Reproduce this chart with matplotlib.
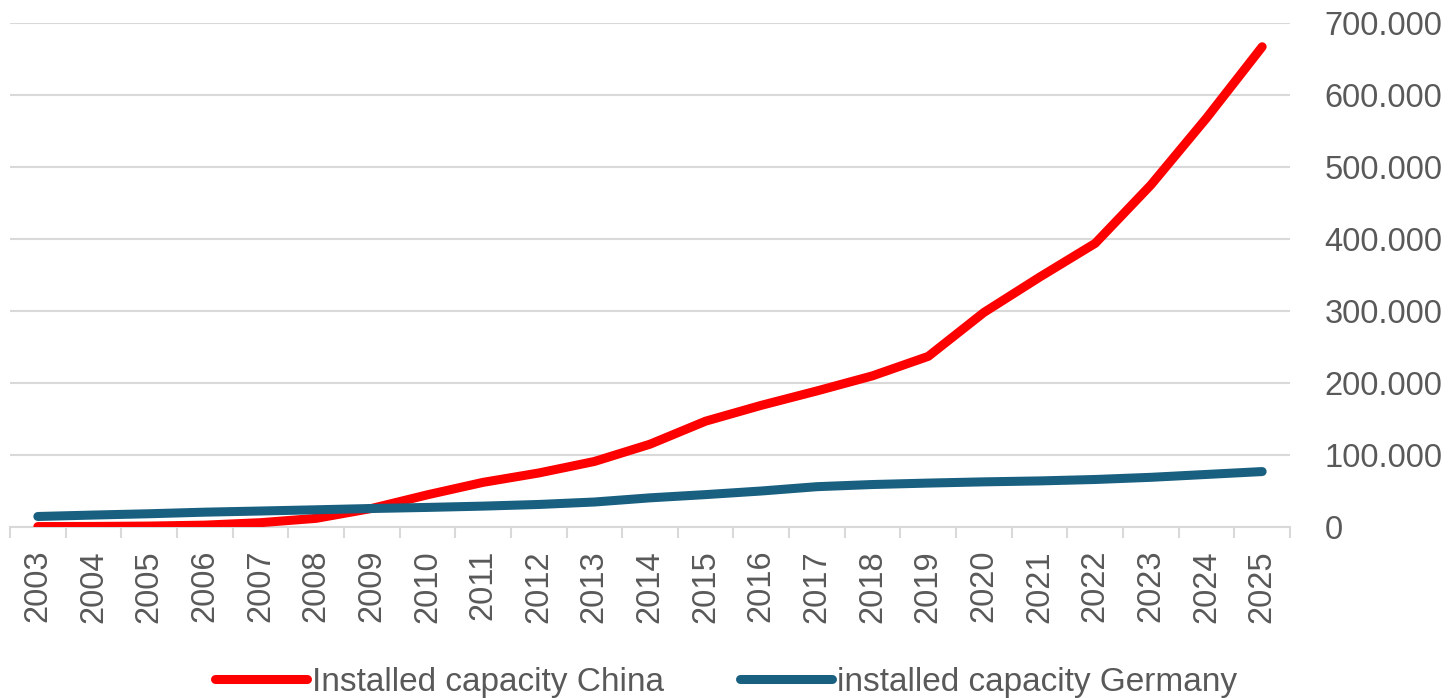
import matplotlib
matplotlib.use("Agg")
import matplotlib.pyplot as plt
from matplotlib.ticker import FuncFormatter, FixedLocator

years = [str(y) for y in range(2003, 2026)]
china = [600, 800, 1300, 2600, 6000, 12000, 25800, 44700, 62000, 75000, 91000,
         115000, 147000, 169000, 189000, 210000, 237000, 298000, 347000, 394000,
         475000, 568000, 667000]
germany = [14600, 16600, 18400, 20600, 22200, 23900, 25700, 27200, 29000, 31300,
           34700, 40500, 45000, 50000, 56000, 59000, 61000, 62700, 64000, 66000,
           69000, 73000, 77000]
series_names = ["Installed capacity China", "installed capacity Germany"]
y_ticks = [0, 100000, 200000, 300000, 400000, 500000, 600000, 700000]

plt.rcParams['font.family'] = ['Liberation Sans', 'DejaVu Sans']
TXT = '#595959'
GRID = '#d9d9d9'

fig = plt.figure(figsize=(14.52, 6.98), dpi=100)
W, H = 1452, 698
ax = fig.add_axes([10 / W, 1 - 527 / H, 1280 / W, 504 / H])

x = list(range(len(years)))
l1, = ax.plot(x, china, color='#ff0000', lw=6.5, solid_capstyle='round',
              solid_joinstyle='round', zorder=3)
l2, = ax.plot(x, germany, color='#185f80', lw=6.5, solid_capstyle='round',
              solid_joinstyle='round', zorder=3)

ax.set_xlim(-0.5, len(years) - 0.5)
ax.set_ylim(0, 700000)

for s in ['left', 'right', 'top']:
    ax.spines[s].set_visible(False)
ax.spines['bottom'].set_color(GRID)
ax.spines['bottom'].set_linewidth(1.5)

ax.set_xticks(x)
ax.set_xticklabels(years, rotation=90, fontsize=23.5, color=TXT)
ax.tick_params(axis='x', which='major', length=0, pad=16.5)
ax.xaxis.set_minor_locator(FixedLocator([i - 0.5 for i in range(len(years) + 1)]))
ax.tick_params(axis='x', which='minor', length=8, width=1.5, color=GRID, direction='out')

ax.yaxis.tick_right()
ax.set_yticks(y_ticks)
ax.yaxis.set_major_formatter(FuncFormatter(lambda v, p: f"{int(v):,}".replace(',', '.')))
ax.tick_params(axis='y', length=0, pad=25, labelsize=23.5, labelcolor=TXT)
for t in ax.get_yticklabels():
    t.set_horizontalalignment('left')
ax.grid(axis='y', color=GRID, lw=1.5)
ax.set_axisbelow(True)

fig.legend([l1, l2], series_names, loc='center', bbox_to_anchor=(0.5, 1 - 682 / H),
           ncol=2, frameon=False, fontsize=24, labelcolor=TXT, handlelength=2.75,
           handletextpad=0.15, columnspacing=2.3, borderaxespad=0)

fig.savefig('out.png', dpi=100)
